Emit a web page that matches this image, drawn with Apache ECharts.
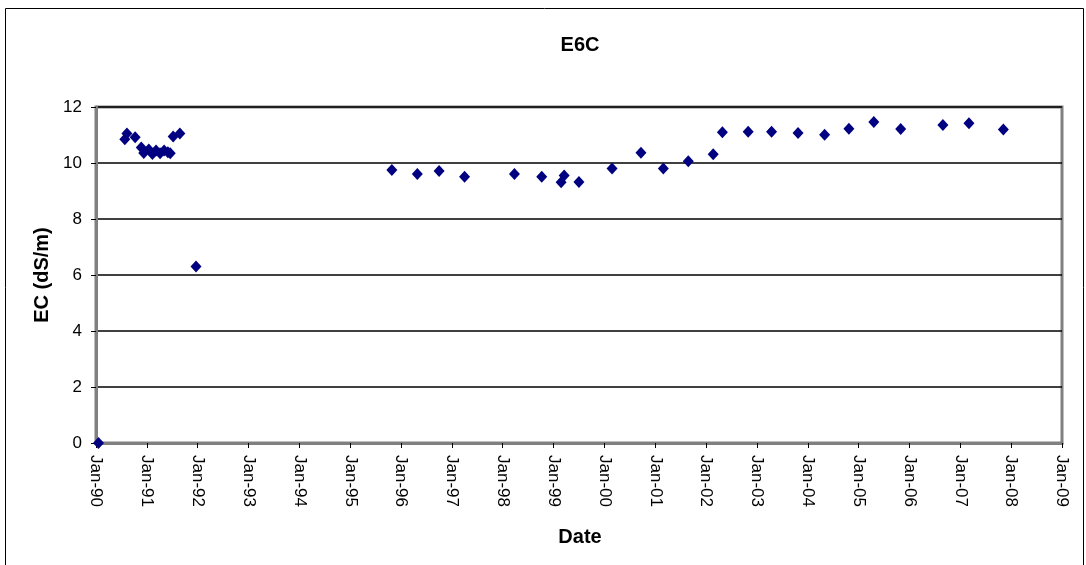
<!DOCTYPE html>
<html>
<head>
<meta charset="utf-8">
<style>
  html, body { margin: 0; padding: 0; background: #ffffff; }
  #chart { width: 1086px; height: 565px; }
</style>
<script src="https://cdn.jsdelivr.net/npm/echarts@6/dist/echarts.min.js"></script>
</head>
<body>
<div id="chart"></div>
<script>
// Sampling dates for station E6C
const sampleDates = [
  '1990-01-19',
  '1990-07-27', '1990-08-11', '1990-10-09', '1990-11-22', '1990-12-10',
  '1991-01-15', '1991-02-10', '1991-03-08', '1991-04-06', '1991-05-05',
  '1991-06-01', '1991-06-18', '1991-07-09', '1991-08-26', '1991-12-20',
  '1995-10-27', '1996-04-27', '1996-10-01', '1997-04-02', '1998-03-26',
  '1998-10-08', '1999-02-24', '1999-03-18', '1999-07-02', '2000-02-25',
  '2000-09-20', '2001-02-28', '2001-08-26', '2002-02-21', '2002-04-28',
  '2002-10-30', '2003-04-16', '2003-10-23', '2004-05-01', '2004-10-23',
  '2005-04-20', '2005-10-30', '2006-08-29', '2007-03-04', '2007-11-06'
];

// Electrical conductivity readings (dS/m)
const ecValues = [
  0.0,
  10.85, 11.05, 10.92, 10.55, 10.36,
  10.48, 10.32, 10.45, 10.35, 10.45,
  10.38, 10.35, 10.95, 11.05, 6.3,
  9.75, 9.61, 9.71, 9.51, 9.61,
  9.51, 9.31, 9.55, 9.32, 9.8,
  10.37, 9.8, 10.06, 10.31, 11.1,
  11.12, 11.12, 11.07, 11.01, 11.22,
  11.46, 11.21, 11.36, 11.42, 11.2
];

// Axis range and tick labels
const yearStart = 1990;
const yearEnd = 2009;
const yearTickLabels = ['Jan-90','Jan-91','Jan-92','Jan-93','Jan-94','Jan-95','Jan-96',
  'Jan-97','Jan-98','Jan-99','Jan-00','Jan-01','Jan-02','Jan-03','Jan-04','Jan-05',
  'Jan-06','Jan-07','Jan-08','Jan-09'];

// Convert an ISO date into a fractional year for the value axis
function toFractionalYear(iso) {
  const d = new Date(iso + 'T00:00:00Z');
  const y = d.getUTCFullYear();
  const start = Date.UTC(y, 0, 1);
  const next = Date.UTC(y + 1, 0, 1);
  return y + (d.getTime() - start) / (next - start);
}

const points = sampleDates.map((d, i) => [toFractionalYear(d), ecValues[i]]);

const FONT = '"Liberation Sans", Arial, sans-serif';
const chart = echarts.init(document.getElementById('chart'), null, { renderer: 'canvas' });

chart.setOption({
  animation: false,
  backgroundColor: '#ffffff',
  graphic: [
    {
      type: 'rect',
      shape: { x: 5.5, y: 8.5, width: 1078, height: 560 },
      style: { fill: 'none', stroke: '#000000', lineWidth: 1 },
      silent: true,
      z: -1
    },
    {
      type: 'text',
      x: 580,
      y: 45,
      style: {
        text: 'E6C',
        fontFamily: FONT,
        fontSize: 20,
        fontWeight: 'bold',
        fill: '#000000',
        align: 'center',
        verticalAlign: 'middle'
      },
      silent: true
    },
    {
      type: 'text',
      x: 42,
      y: 275,
      rotation: Math.PI / 2,
      style: {
        text: 'EC (dS/m)',
        fontFamily: FONT,
        fontSize: 20,
        fontWeight: 'bold',
        fill: '#000000',
        align: 'center',
        verticalAlign: 'middle'
      },
      silent: true
    },
    {
      type: 'text',
      x: 580,
      y: 537,
      style: {
        text: 'Date',
        fontFamily: FONT,
        fontSize: 20,
        fontWeight: 'bold',
        fill: '#000000',
        align: 'center',
        verticalAlign: 'middle'
      },
      silent: true
    }
  ],
  grid: {
    left: 96,
    right: 24,
    top: 107,
    bottom: 122,
    show: true,
    borderColor: '#808080',
    borderWidth: 3,
    backgroundColor: '#ffffff'
  },
  xAxis: {
    type: 'value',
    min: yearStart,
    max: yearEnd,
    interval: 1,
    axisLine: { show: true, lineStyle: { color: '#808080', width: 3 } },
    axisTick: { show: true, inside: false, length: 5, lineStyle: { color: '#000000', width: 1 } },
    splitLine: { show: false },
    axisLabel: {
      rotate: -90,
      margin: 12,
      fontFamily: FONT,
      fontSize: 17,
      color: '#000000',
      formatter: v => yearTickLabels[Math.round(v - yearStart)] || ''
    }
  },
  yAxis: {
    type: 'value',
    min: 0,
    max: 12,
    interval: 2,
    axisLine: { show: true, lineStyle: { color: '#808080', width: 3 } },
    axisTick: { show: true, inside: false, length: 5, lineStyle: { color: '#000000', width: 1 } },
    splitLine: { show: true, lineStyle: { color: '#000000', width: 1.5 } },
    axisLabel: {
      margin: 14,
      fontFamily: FONT,
      fontSize: 17,
      color: '#000000'
    }
  },
  series: [{
    type: 'scatter',
    data: points,
    symbol: 'diamond',
    symbolSize: [11, 12],
    itemStyle: { color: '#000080', opacity: 1 },
    clip: false,
    z: 5
  }]
});
</script>
</body>
</html>
